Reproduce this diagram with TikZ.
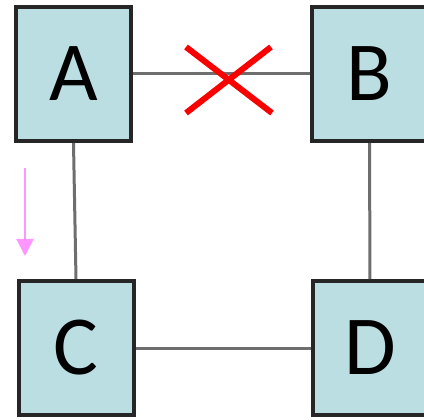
\documentclass[tikz,border=0pt]{standalone}
\usepackage{fontspec}
\setmainfont{Carlito}
\usetikzlibrary{positioning, arrows.meta, calc}
\definecolor{boxblue}{RGB}{186,222,226}
\definecolor{linkg}{RGB}{110,110,110}
\definecolor{crossr}{RGB}{250,0,0}
\definecolor{hintp}{RGB}{255,150,255}
\begin{document}
\begin{tikzpicture}
[box/.style={shape=rectangle, draw=black!85, line width=4pt, fill=boxblue,
   minimum width=115pt, minimum height=134pt, inner sep=0pt,
   font=\fontsize{84}{84}\selectfont},
 link/.style={draw=linkg, line width=3pt},
 x=1pt, y=-1pt]
\useasboundingbox (0,0) rectangle (424,420);
\node[box] (A) at (73.5, 74) {A};
\node[box] (B) [right=177pt of A] {B};
\node[box] (C) at (76, 348) {C};
\node[box] (D) [right=175pt of C] {D};
\draw [link] (A) -- (B);
\draw [link] (A.south) -- (C.north);
\draw [link] (B) -- (D);
\draw [link] (C) -- (D);
% the cut on A--B
\coordinate (cut) at (229, 80);
\draw [crossr, line width=6pt] ($(cut)+(-43,-33)$) -- ($(cut)+(43,33)$)
  ($(cut)+(-43,33)$) -- ($(cut)+(42,-33)$);
% move hint
\coordinate (h1) at (25, 168);
\coordinate (h2) at (25, 256);
\draw [hintp, line width=2pt, -{Triangle[width=17pt, length=17pt]}] (h1) -- (h2);
\end{tikzpicture}
\end{document}
